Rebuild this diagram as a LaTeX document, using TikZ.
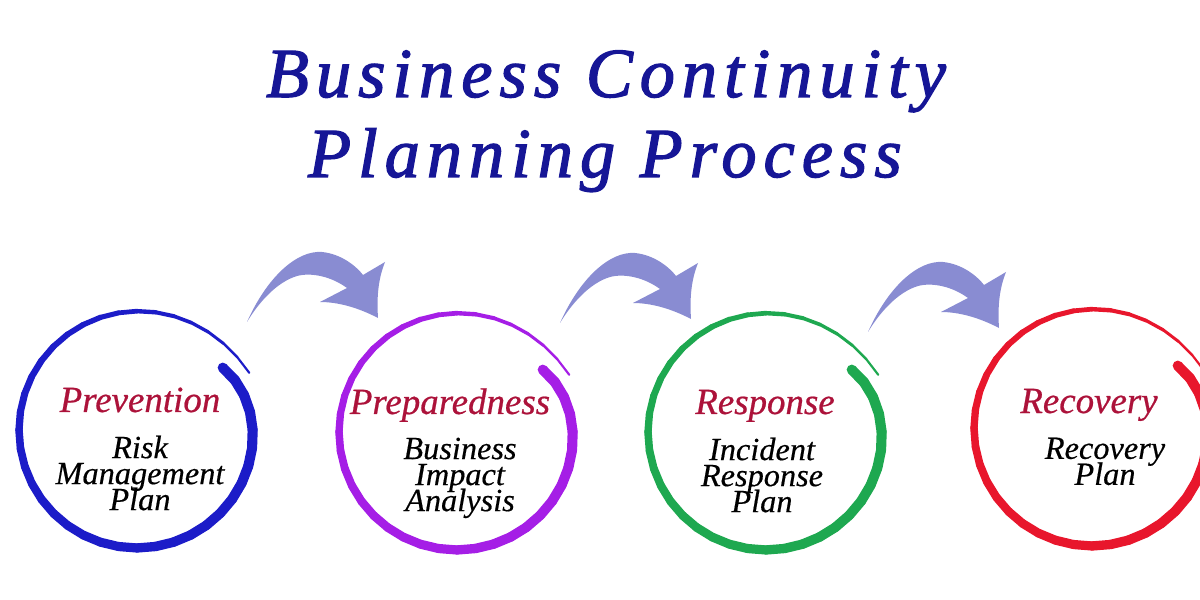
\documentclass[tikz,border=0pt]{standalone}
\usepackage{fontspec}
\setmainfont{Liberation Serif}
\usetikzlibrary{calc}
\definecolor{titleblue}{RGB}{22,22,150}
\definecolor{headred}{RGB}{172,18,58}
\definecolor{ringblue}{RGB}{28,28,200}
\definecolor{ringpurple}{RGB}{165,30,230}
\definecolor{ringgreen}{RGB}{30,168,80}
\definecolor{ringred}{RGB}{232,22,44}
\definecolor{swoopblue}{RGB}{137,140,210}
\newcommand\tightlines{\lineskiplimit=-20pt\relax}
%% hand drawn ring round a node: #1 node, #2 colour
\newcommand\brushring[2]{%
  \foreach \i in {0,...,40}{%
    \pgfmathsetmacro\pA{\i/41}
    \pgfmathsetmacro\pB{(\i+1)/41}
    \pgfmathsetmacro\angA{36-369*\pA}
    \pgfmathsetmacro\angB{36-369*\pB}
    \pgfmathsetmacro\radA{1.18-0.12*(1-\pA)^16+0.08*\pA^12}
    \pgfmathsetmacro\radB{1.18-0.12*(1-\pB)^16+0.08*\pB^12}
    \pgfmathsetmacro\wid{2.9-2.4*\pA^2}
    \draw[#2,line width=\wid pt,line cap=round] ($(#1)+(\angA:\radA)$) -- ($(#1)+(\angB:\radB)$);
  }}
\tikzset{
  title/.style={anchor=base,text=titleblue,font=\fontsize{20}{24}\selectfont\itshape\addfontfeature{LetterSpace=10,FakeBold=1.8}},
  ring/.style={circle,minimum size=2.36cm,inner sep=0pt},
  head/.style={anchor=base,text=headred,font=\fontsize{10.5}{12}\selectfont\itshape\addfontfeature{FakeBold=0.6}},
  body/.style={anchor=north,align=center,inner sep=0pt,font=\fontsize{9.2}{7.4}\selectfont\itshape\addfontfeature{FakeBold=0.4}\tightlines},
  swoop/.pic={
    \fill[swoopblue] (0,0) .. controls (0.2,0.45) and (0.5,0.72) .. (0.75,0.70)
      .. controls (0.95,0.68) and (1.1,0.55) .. (1.16,0.47) -- (1.38,0.60)
      .. controls (1.3,0.4) and (1.3,0.2) .. (1.31,0.04)
      .. controls (1.1,0.15) and (0.9,0.2) .. (0.73,0.20) -- (1.00,0.34)
      .. controls (0.85,0.45) and (0.65,0.5) .. (0.5,0.46)
      .. controls (0.3,0.40) and (0.12,0.2) .. (0,0) -- cycle;
  }
}
\begin{document}
\begin{tikzpicture}
    \useasboundingbox (0,0) rectangle (12,6);
    %% title
    \node[title] (t1) at (6.06,5.03) {Business Continuity};
    \node[title] (t2) at (6.05,4.23) {Planning Process};
    %% rings
    \node[ring] (c1) at (1.37,1.70) {};
    \node[ring] (c2) at (4.57,1.68) {};
    \node[ring] (c3) at (7.66,1.68) {};
    \node[ring] (c4) at (10.92,1.72) {};
    \brushring{c1}{ringblue}
    \brushring{c2}{ringpurple}
    \brushring{c3}{ringgreen}
    \brushring{c4}{ringred}
    %% arrows between rings
    \pic at ([shift={(1.10,1.08)}]c1.center) {swoop};
    \pic at ([shift={(1.03,1.09)}]c2.center) {swoop};
    \pic at ([shift={(1.02,1.00)}]c3.center) {swoop};
    %% texts
    \node[head] (h1) at ([shift={(0.03,0.18)}]c1.center) {Prevention};
    \node[body] (b1) at ([shift={(0.03,-0.05)}]c1.center) {Risk\\Management\\Plan};
    \node[head] (h2) at ([shift={(-0.07,0.18)}]c2.center) {Preparedness};
    \node[body] (b2) at ([shift={(0.03,-0.05)}]c2.center) {Business\\Impact\\Analysis};
    \node[head] (h3) at ([shift={(-0.01,0.18)}]c3.center) {Response};
    \node[body] (b3) at ([shift={(-0.04,-0.05)}]c3.center) {Incident\\Response\\Plan};
    \node[head] (h4) at ([shift={(-0.03,0.15)}]c4.center) {Recovery};
    \node[body] (b4) at ([shift={(0.13,-0.09)}]c4.center) {Recovery\\Plan};
\end{tikzpicture}
\end{document}
